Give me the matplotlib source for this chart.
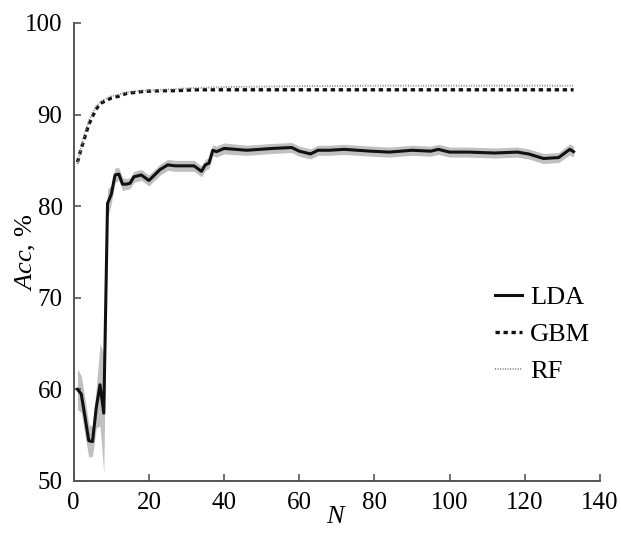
import numpy as np
import matplotlib
matplotlib.use("Agg")
import matplotlib.pyplot as plt

plt.rcParams['font.family'] = 'serif'
plt.rcParams['font.serif'] = ['Liberation Serif']
plt.rcParams['mathtext.fontset'] = 'custom'
plt.rcParams['mathtext.it'] = 'Liberation Serif:italic'
plt.rcParams['mathtext.rm'] = 'Liberation Serif'

# LDA mean accuracy and half-width of grey band
lda_n = [1, 2, 3, 4, 5, 6, 7, 8, 9, 10, 11, 12, 13, 14, 15, 16, 18, 20, 23, 25, 27, 32,
         34, 35, 36, 37, 38, 40, 46, 53, 58, 60, 63, 65, 68, 72, 79, 84, 90, 95, 97, 100,
         105, 112, 118, 121, 125, 129, 132, 133]
lda_acc = [60.0, 59.5, 57.0, 54.4, 54.3, 58.0, 60.5, 57.4, 80.3, 81.3, 83.4, 83.5, 82.4, 82.4,
           82.5, 83.2, 83.4, 82.8, 84.0, 84.5, 84.4, 84.4, 83.8, 84.5, 84.7, 86.1, 85.95, 86.3,
           86.1, 86.3, 86.4, 86.0, 85.7, 86.1, 86.1, 86.2, 86.0, 85.9, 86.1, 86.0, 86.2, 85.9,
           85.9, 85.8, 85.9, 85.7, 85.2, 85.3, 86.2, 85.95]
lda_err = [2.2, 2.0, 2.0, 1.8, 1.6, 2.2, 4.5, 6.5, 1.6, 1.0, 0.8, 0.7, 0.7, 0.6, 0.6, 0.6, 0.6,
           0.6, 0.6, 0.6, 0.6, 0.6, 0.6, 0.6, 0.6, 0.6, 0.6, 0.6, 0.55, 0.55, 0.55, 0.55, 0.55,
           0.55, 0.55, 0.55, 0.55, 0.55, 0.55, 0.55, 0.55, 0.55, 0.55, 0.55, 0.55, 0.55, 0.55,
           0.55, 0.6, 0.6]

gbm_n = [1, 2, 3, 4, 5, 6, 7, 8, 10, 12, 14, 16, 18, 20, 23, 27, 32, 40, 60, 80, 100, 120, 133]
gbm_acc = [84.8, 86.3, 87.6, 88.9, 89.8, 90.6, 91.2, 91.4, 91.8, 92.0, 92.3, 92.4, 92.5,
           92.55, 92.6, 92.6, 92.7, 92.7, 92.7, 92.7, 92.7, 92.7, 92.7]

rf_n = [1, 2, 3, 4, 5, 6, 7, 8, 10, 12, 14, 18, 23, 32, 40, 60, 80, 100, 120, 133]
rf_acc = [84.6, 86.5, 88.0, 89.3, 90.2, 90.9, 91.3, 91.6, 92.0, 92.2, 92.4, 92.6, 92.7,
          92.9, 93.0, 93.1, 93.15, 93.15, 93.15, 93.15]

fig = plt.figure(figsize=(6.21, 5.33), dpi=100)
ax = fig.add_axes([0.1187, 0.0976, 0.8473, 0.8594])

lo = np.array(lda_acc) - np.array(lda_err)
hi = np.array(lda_acc) + np.array(lda_err)
ax.fill_between(lda_n, lo, hi, color='#c0c0c0', lw=0)
ax.plot(lda_n, lda_acc, color='#111111', lw=2.2, label='LDA')
ax.plot(gbm_n, gbm_acc, color='#111111', lw=2.4, dashes=(1.3, 1.1), label='GBM')
ax.plot(rf_n, rf_acc, color='#888888', lw=1.4, dashes=(0.5, 0.8), label='RF')

ax.set_xlim(0, 140)
ax.set_ylim(50, 100)
ax.set_xticks(range(0, 141, 20))
ax.set_yticks(range(50, 101, 10))
for s in ['top', 'right']:
    ax.spines[s].set_visible(False)
for s in ['left', 'bottom']:
    ax.spines[s].set_color('#555555')
    ax.spines[s].set_linewidth(1.4)
ax.tick_params(direction='in', length=5, width=1.2, color='#555555', labelsize=18)
ax.tick_params(axis='x', pad=8)
ax.tick_params(axis='y', pad=8)

ax.set_xlabel('$N$', fontsize=19, labelpad=-6)
ax.set_ylabel('$Acc$, %', fontsize=19)
ax.yaxis.set_label_coords(-0.068, 0.5)

ax.legend(loc='center left', bbox_to_anchor=(0.775, 0.32), frameon=False, fontsize=19,
          handlelength=1.05, handletextpad=0.3, labelspacing=0.5, borderpad=0)

fig.savefig('out.png', dpi=100)
